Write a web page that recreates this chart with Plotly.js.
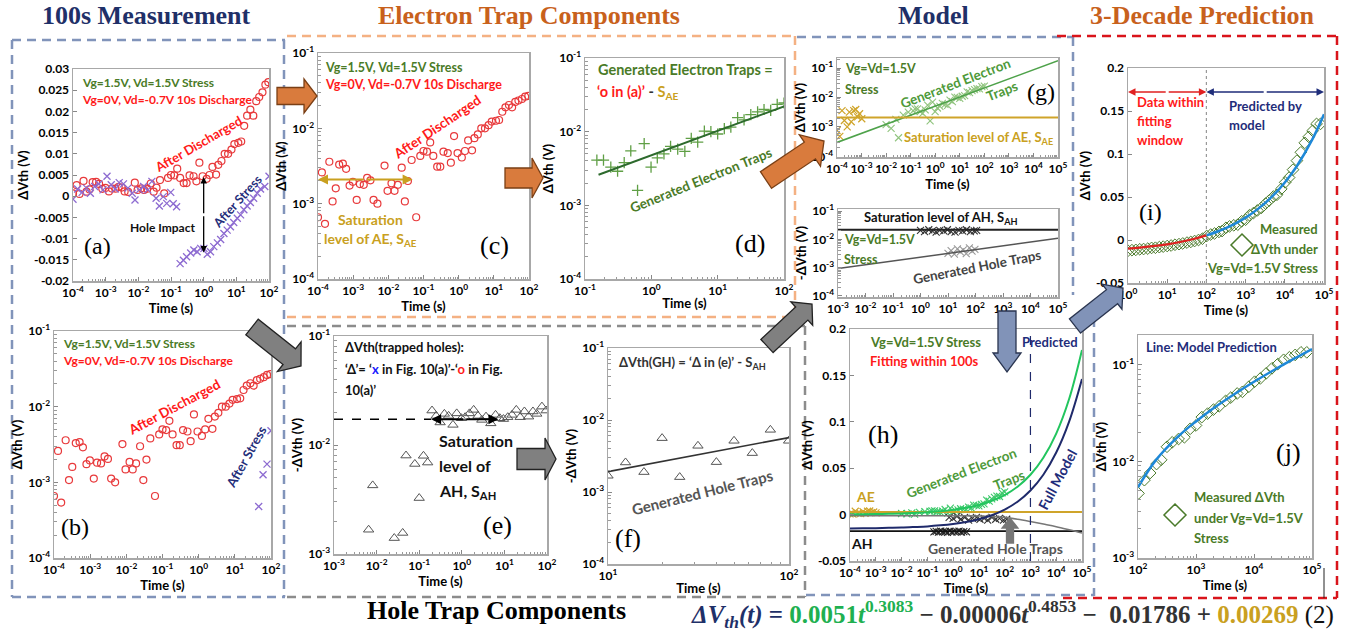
<!DOCTYPE html>
<html><head><meta charset="utf-8">
<script src="https://cdn.plot.ly/plotly-3.0.1.min.js"></script>
<style>body{margin:0;background:#fff}#chart{width:1361px;height:634px}</style>
</head><body><div id="chart"></div>
<script>
const W=1361,H=634;
const FONT='Lato, "Open Sans", sans-serif';
const SERIF='"Liberation Serif", "DejaVu Serif", serif';

// ---------- DATA ----------
// (a)(b)(c) after discharge, red circles
const redT=[1.0e-4,1.29e-4,1.58e-4,2.1e-4,2.6e-4,3.2e-4,4.0e-4,5.1e-4,6.3e-4,7.9e-4,9.8e-4,1.26e-3,1.55e-3,2.0e-3,2.5e-3,3.1e-3,3.8e-3,4.9e-3,7.8e-3,9.5e-3,1.23e-2,1.5e-2,1.86e-2,2.4e-2,2.95e-2,3.6e-2,4.6e-2,6.2e-2,8.1e-2,0.100,0.126,0.155,0.19,0.245,0.30,0.37,0.49,0.60,0.74,0.93,1.23,1.51,1.86,2.4,2.8,3.5,4.4,5.6,7.1,8.7,11.5,14.1,17.4,21.4,26.9,33.1,40.7,50.1,63.1,77.6,95.5];
const redV=[6.6e-4,2.6e-3,5.4e-4,3.6e-3,1.07e-3,1.6e-3,3.3e-3,3.4e-3,2.9e-3,1.74e-3,1.95e-3,1.12e-3,1.82e-3,1.78e-3,2.2e-3,2.04e-3,1.12e-3,1.0e-3,3.2e-3,1.48e-3,1.86e-3,1.48e-3,1.78e-3,3.0e-3,1.07e-3,2.0e-3,3.8e-3,6.6e-4,4.3e-3,5.0e-3,4.9e-3,6.5e-3,4.3e-3,3.1e-3,3.1e-3,4.9e-3,4.7e-3,3.5e-3,7.9e-3,4.7e-3,4.1e-3,5.0e-3,6.9e-3,5.1e-3,7.4e-3,8.3e-3,1.0e-2,1.0e-2,1.1e-2,1.23e-2,1.26e-2,1.29e-2,1.66e-2,1.9e-2,2.04e-2,1.9e-2,2.24e-2,2.34e-2,2.45e-2,2.63e-2,2.69e-2];
// (a) after stress, purple x
const purT=[1.0e-4,1.38e-4,1.9e-4,2.6e-4,3.4e-4,4.6e-4,6.2e-4,8.3e-4,1.1e-3,1.48e-3,1.95e-3,2.6e-3,3.5e-3,4.8e-3,6.5e-3,7.9e-3,1.07e-2,1.45e-2,1.95e-2,2.6e-2,3.5e-2,4.4e-2,5.8e-2,7.4e-2,9.8e-2,0.117,0.148,0.19,0.24,0.30,0.40,0.50,0.63,0.81,1.02,1.29,1.62,2.04,2.63,3.31,4.17,5.25,6.61,8.32,10.7,13.5,17.0,21.4,26.9,33.9,43.7,55.0,74.1,100];
const purV=[-0.0007,0.0017,0.0009,0.0019,0.0007,0.0023,0.0029,0.0015,0.0047,0.0027,0.0017,0.0032,0.0029,0.0019,0.0007,-0.0009,0.0015,0.0023,0.0015,0.0035,-0.0005,-0.0023,-0.0001,-0.0017,0.0009,-0.0018,-0.0025,-0.0159,-0.0151,-0.0143,-0.0134,-0.0127,-0.0131,-0.0123,-0.0123,-0.0137,-0.0131,-0.0119,-0.0110,-0.0102,-0.0088,-0.0080,-0.0072,-0.0062,-0.0052,-0.0044,-0.0032,-0.0023,-0.0015,-0.0005,0.0007,0.0017,0.0023,0.0047];
// (b) after stress (positive part)
const purBT=[45.7,60.3,77.6,100];
const purBV=[4.8e-4,1.26e-3,1.74e-3,4.8e-3];
// saturation levels
const SAE=0.0021, SAH_E=0.0172, SAH_G=0.022, AE_H=0.00269, AH_H=-0.01786;
// (d) generated electron traps (+)
const geT=[0.151,0.19,0.245,0.31,0.39,0.49,0.62,0.78,0.99,1.23,1.55,1.95,2.5,3.2,4.0,5.0,6.3,7.9,10,12.6,15.8,20,25,31.6,40,50,63,79,100];
const geV=[4.1e-3,4.1e-3,3.3e-3,2.9e-3,3.8e-3,5.5e-3,1.6e-3,6.9e-3,3.3e-3,4.4e-3,5.0e-3,6.3e-3,5.8e-3,5.4e-3,8.1e-3,7.2e-3,1.02e-2,1.0e-2,9.3e-3,1.1e-2,1.15e-2,1.55e-2,1.45e-2,1.7e-2,1.86e-2,2.0e-2,1.95e-2,2.34e-2,2.45e-2];
const fitDT=[0.16,100], fitDV=[2.6e-3,2.2e-2];
// (e) trapped holes (triangles)
const trET=[6.5e-3,8.1e-3,2.6e-2,4.1e-2,4.9e-2,7.9e-2,0.10,0.126,0.158,0.20,0.25,0.31,0.39,0.49,0.62,0.76,0.98,1.2,1.51,1.9,2.4,2.95,3.7,4.8,6.2,7.8,9.5,12,15.1,19,23.4,29.5,37,46.8,57.5,76,95.5];
const trEV=[1.67e-3,4.26e-3,1.4e-3,1.56e-3,8.0e-3,6.7e-3,3.26e-3,7.96e-3,6.9e-3,0.0207,0.0185,0.0161,0.0193,0.0185,0.0153,0.0195,0.0176,0.0180,0.0195,0.0210,0.0185,0.0170,0.0182,0.0158,0.0189,0.0176,0.0173,0.0180,0.0189,0.0210,0.0180,0.0203,0.0182,0.0203,0.0193,0.0225,0.0207];
// (f) generated hole traps
const trFT=[10,12.5,15.8,19.9,24.9,31.4,39.7,49.7,62.7,78.9,99.5];
const trFV=[1.68e-3,2.57e-3,1.89e-3,5.6e-3,1.61e-3,4.38e-3,2.6e-3,5.14e-3,3.47e-3,7.3e-3,5.14e-3];
const ghFT=[10,100], ghFV=[1.92e-3,5.7e-3];
// (g)(h) AE points (gold x) and generated electron trap points (green x)
const aeT=[1.0e-4,1.3e-4,1.6e-4,2.0e-4,2.6e-4,3.2e-4,3.8e-4,4.8e-4,5.8e-4,6.9e-4,8.3e-4,1.02e-3];
const aeV=[7.6e-4,4.8e-4,3.6e-3,1.66e-3,1.0e-3,3.2e-3,1.5e-3,3.6e-3,3.9e-3,2.2e-3,2.8e-3,1.9e-3];
const gxT=[0.01,0.016,0.025,0.032,0.05,0.08,0.126].concat(geT);
const gxV=[1.2e-3,9e-4,1.8e-3,4.3e-4,2.5e-3,3.2e-3,3.5e-3].concat(geV);
const geLineT=[1e-4,1e5], geLineV=[2.98e-4,0.177];
// (g) lower: AH and generated hole traps
const ahGT=[1.0,1.4,2.0,2.7,3.7,5.0,7.0,9.5,13,18,25,34,47,65,90,110];
const ahGV=[0.021,0.019,0.022,0.020,0.018,0.021,0.020,0.022,0.019,0.018,0.021,0.020,0.022,0.019,0.020,0.021];
const ghGT=[10,13,17,22,28,36,46,60,75,95];
const ghGV=[3.2e-3,4.0e-3,3.0e-3,4.6e-3,3.6e-3,4.2e-3,3.1e-3,5.0e-3,3.8e-3,4.4e-3];
const ghLineT=[1e-3,1e5], ghLineV=[9.1e-4,1.1e-2];
// (h) points
const ahHT=[0.18,0.22,0.27,0.33,0.4,0.5,0.6,0.75,0.9,1.1,1.4,1.7,2.1,2.6,3.3];
const ahHV=[-0.0185,-0.0180,-0.0190,-0.0178,-0.0186,-0.0182,-0.0192,-0.0179,-0.0188,-0.0181,-0.0187,-0.0177,-0.0189,-0.0183,-0.0186];
const ghHT=[0.7,1,1.4,2,2.8,4,5.6,8,11,16,22,32,45,63,90,120];
const ghHV=[-0.003,-0.004,-0.002,-0.005,-0.003,-0.006,-0.004,-0.003,-0.005,-0.004,-0.006,-0.003,-0.005,-0.004,-0.006,-0.005];
// (h) model curves
const curveT=[1e-4,3.16e-4,1e-3,3.16e-3,1e-2,3.16e-2,0.1,0.316,1,3.16,10,31.6,100,316,1e3,3162,1e4,31623,1e5];
const curveGE=[0.0003,0.0004,0.0006,0.0009,0.0012,0.0018,0.0025,0.0036,0.0051,0.0073,0.0104,0.0148,0.0211,0.0301,0.0429,0.0612,0.0873,0.1245,0.1774];
const curveFull=[-0.0149,-0.0148,-0.0146,-0.0143,-0.0140,-0.0134,-0.0127,-0.0116,-0.0101,-0.0080,-0.0050,-0.0007,0.0054,0.0139,0.0260,0.0430,0.0669,0.1002,0.1462];
const curveGH=[-0.0012,-0.0012,-0.0012,-0.0012,-0.0012,-0.0012,-0.0012,-0.0012,-0.0012,-0.0013,-0.0015,-0.0020,-0.0030,-0.0050,-0.0075,-0.0102,-0.0130,-0.0163,-0.0198];
// (i)(j) measured and model prediction
const measT=[1,1.26,1.58,2.0,2.5,3.2,4.0,5.0,6.3,7.9,10,12.6,15.8,20,25,32,40,50,63,79,102,129,162,209,251,316,389,501,631,794,1000,1259,1585,1995,2512,3236,3981,5129,6310,8128,10230,12880,16220,20420,25700,32360,40740,51290,64570,81280];
const measV=[-0.0125,-0.0118,-0.0115,-0.0108,-0.0105,-0.0100,-0.0092,-0.0090,-0.0083,-0.0077,-0.0070,-0.0064,-0.0055,-0.0048,-0.0040,-0.0030,-0.0022,-0.0012,0.0000,0.0015,4.67e-3,6.4e-3,7.6e-3,9.4e-3,1.04e-2,1.42e-2,1.58e-2,1.71e-2,1.78e-2,2.18e-2,2.36e-2,2.88e-2,3.13e-2,3.44e-2,3.73e-2,4.24e-2,4.59e-2,5.06e-2,5.26e-2,5.94e-2,6.70e-2,7.26e-2,8.18e-2,9.23e-2,0.102,0.113,0.120,0.127,0.135,0.135];
const fitT=[1,2,5,10,20,50,100];
const fitV=[-0.0101,-0.0089,-0.0069,-0.0050,-0.0026,0.0015,0.0054];
const predT=[100,200,500,1e3,2e3,5e3,1e4,2e4,5e4,1e5];
const predV=[0.0054,0.0102,0.0183,0.0260,0.0356,0.0515,0.0669,0.0855,0.1167,0.1462];
// tick labels
const aYvals=[-0.02,-0.015,-0.01,-0.005,0,0.005,0.01,0.015,0.02,0.025,0.03];
const aYtext=['-0.02','-0.015','-0.01','-0.005','0','0.005','0.01','0.015','0.02','0.025','0.03'];
const hYvals=[-0.05,0,0.05,0.1,0.15,0.2];
const hYtext=['-0.05','0','0.05','0.1','0.15','0.2'];

// ---------- LAYOUT HELPERS ----------
function dec(lo,hi){const v=[],t=[];for(let k=lo;k<=hi;k++){v.push(Math.pow(10,k));t.push('10<sup>'+k+'</sup>');}return {v,t};}
const FRAME='#a8a8a8';
function axis(type,range,box,isX,anchor,tv,tt,title,fs,extra){
  const d=isX?[box[0]/W,box[2]/W]:[1-box[3]/H,1-box[1]/H];
  const o={type,range,domain:d,anchor,showgrid:false,zeroline:false,showline:true,mirror:true,linecolor:FRAME,linewidth:1.5,
    ticks:'inside',ticklen:4,tickcolor:'#888',tickmode:'array',tickvals:tv,ticktext:tt,
    tickfont:{family:FONT,size:fs||12,color:'#000',weight:'bold'},fixedrange:true};
  if(type==='log') o.minor={ticks:'inside',ticklen:2.5,tickcolor:'#999',dtick:'D1',showgrid:false};
  if(title) o.title={text:title,font:{family:FONT,size:13,color:'#000',weight:'bold'},standoff:2};
  return Object.assign(o,extra||{});
}
const B={a:[73,69,269,281],b:[54,331,271,558],c:[318,53,529,279],d:[585,58,784,279],e:[334,336,547,554],
 f:[608,348,789,564],g:[837,58,1058,157],g2:[838,209,1058,297],h:[850,329,1082,561],i:[1128,68,1324,283],j:[1138,335,1312,558]};
const layout={width:W,height:H,margin:{l:0,r:0,t:0,b:0},paper_bgcolor:'#fff',plot_bgcolor:'#fff',showlegend:false,hovermode:false};
function setAx(n,box,xt,xr,xtick,xtitle,yt,yr,ytick,ytitle,fsx,fsy){
  const xs=n===1?'':String(n);
  layout['xaxis'+xs]=axis(xt,xr,box,true,'y'+xs,xtick.v,xtick.t,xtitle,fsx);
  layout['yaxis'+xs]=axis(yt,yr,box,false,'x'+xs,ytick.v,ytick.t,ytitle,fsy);
}
const linA={v:aYvals,t:aYtext}, linH={v:hYvals,t:hYtext};
const TS='Time (s)', DV='ΔVth (V)', NDV='-ΔVth (V)';
setAx(1,B.a,'log',[-4,2],dec(-4,2),TS,'linear',[-0.02,0.03],linA,DV);
setAx(2,B.b,'log',[-4,2],dec(-4,2),TS,'log',[-4,-1],dec(-4,-1),DV);
setAx(3,B.c,'log',[-4,2],dec(-4,2),TS,'log',[-4,-1],dec(-4,-1),DV);
setAx(4,B.d,'log',[-1,2],dec(-1,2),TS,'log',[-4,-1],dec(-4,-1),DV);
setAx(5,B.e,'log',[-3,2],dec(-3,2),TS,'log',[-3,-1],dec(-3,-1),NDV);
setAx(6,B.f,'log',[1,2],dec(1,2),TS,'log',[-4,-1],dec(-4,-1),NDV);
setAx(7,B.g,'log',[-4,5],dec(-4,5),TS,'log',[-4.02,-0.66],dec(-4,-1),DV,12,12);
setAx(8,B.g2,'log',[-3,5],dec(-3,5),null,'log',[-4.05,-0.92],dec(-4,-1),NDV,12,12);
setAx(9,B.h,'log',[-4,5],dec(-4,5),TS,'linear',[-0.05,0.2],linH,DV);
setAx(10,B.i,'log',[0,5],dec(0,5),TS,'linear',[-0.05,0.2],linH,DV);
setAx(11,B.j,'log',[2,5],dec(2,5),TS,'log',[-3,-0.69],dec(-3,-1),DV);

// ---------- TRACES ----------
const traces=[];
function pts(n,x,y,sym,color,size,lw){const s=n===1?'':String(n);traces.push({x,y,xaxis:'x'+s,yaxis:'y'+s,mode:'markers',type:'scatter',
  marker:{symbol:sym,size:size||7,color:color,line:{color:color,width:lw||1.2}},cliponaxis:true});}
function line(n,x,y,color,w,dash,shape){const s=n===1?'':String(n);traces.push({x,y,xaxis:'x'+s,yaxis:'y'+s,mode:'lines',type:'scatter',
  line:{color,width:w||2,dash:dash||'solid',shape:shape||'linear'}});}
const RED='#e8393b',PUR='#8d6bd1',GOLD='#cfa42a',DKG='#2d6a2d',GRN='#5f9f45',LGRN='#90c47e',HGRN='#3cc96a',BLUE='#1e88d8',NAVY='#1f2a6b';
// a
pts(1,redT,redV,'circle-open',RED,7);
pts(1,purT,purV,'x-thin',PUR,7,1.3);
// b
pts(2,redT,redV,'circle-open',RED,7);
pts(2,purBT,purBV,'x-thin',PUR,7,1.3);
// c
pts(3,redT,redV,'circle-open',RED,7);
// d
pts(4,geT,geV,'cross-thin',GRN,8,1.3);
line(4,fitDT,fitDV,DKG,2);
// e
pts(5,trET,trEV,'triangle-up-open','#555',9,1);
// f
pts(6,trFT,trFV,'triangle-up-open','#555',9,1);
line(6,ghFT,ghFV,'#333',1.6);
// g
pts(7,gxT,gxV,'x-thin',LGRN,7,1.1);
pts(7,aeT,aeV,'x-thin',GOLD,7,1.2);
line(7,geLineT,geLineV,'#4ea24a',1.6);
line(7,[1e-4,1e5],[SAE,SAE],GOLD,2);
// g2
pts(8,ahGT,ahGV,'x-thin','#333',7,1.1);
pts(8,ghGT,ghGV,'x-thin','#999',7,1.1);
line(8,[1e-3,1e5],[SAH_G,SAH_G],'#222',2);
line(8,ghLineT,ghLineV,'#555',1.5);
// h
pts(9,gxT,gxV,'x-thin',HGRN,7,1.1);
pts(9,aeT,aeV,'x-thin',GOLD,7,1.2);
pts(9,ahHT,ahHV,'x-thin','#222',7,1.1);
pts(9,ghHT,ghHV,'x-thin','#333',7,1.1);
line(9,[1e-4,1e5],[AE_H,AE_H],GOLD,2);
line(9,[1e-4,1e5],[AH_H,AH_H],'#111',1.8);
line(9,curveT,curveGH,'#777',1.6,'solid','spline');
line(9,curveT,curveGE,'#22c55e',2,'solid','spline');
line(9,curveT,curveFull,NAVY,2,'solid','spline');
// i
pts(10,measT,measV,'diamond-open','#4a7a2a',9,1);
line(10,fitT,fitV,'#e02020',2.2,'solid','spline');
line(10,predT,predV,BLUE,2.5,'solid','spline');
// j
pts(11,measT,measV,'diamond-open','#4a7a2a',9,1);
line(11,predT,predV,BLUE,2.5,'solid','spline');

// ---------- ANNOTATIONS ----------
const anns=[];
function T(text,x,y,size,color,o){o=o||{};
  anns.push({xref:'paper',yref:'paper',x:x/W,y:1-y/H,text,showarrow:false,
    xanchor:o.xa||'center',yanchor:o.ya||'middle',textangle:o.ang||0,
    font:{family:o.fam||FONT,size:size,color:color,weight:o.w||'bold'}});}
function dbl(n,x1,y1,x2,y2,color,w){const s=n===1?'':String(n);const mx=(x1+x2)/2,my=(y1+y2)/2;
  [[x1,y1],[x2,y2]].forEach(p=>anns.push({xref:'x'+s,yref:'y'+s,axref:'x'+s,ayref:'y'+s,x:p[0],y:p[1],ax:mx,ay:my,
    text:'',showarrow:true,arrowhead:2,arrowsize:1,arrowwidth:w,arrowcolor:color}));}
const GT='#4a7b27',RT='#ff1a1a',NT='#1f2d7a',GDT='#c9a020',ORG='#c8611c';
// headers
T('100s Measurement',146,16,26,'#1f3068',{fam:SERIF});
T('Electron Trap Components',529,16,26,ORG,{fam:SERIF});
T('Model',933,16,26,'#1f3068',{fam:SERIF});
T('3-Decade Prediction',1202,16,26,ORG,{fam:SERIF});
T('Hole Trap Components',496,610,26,'#000',{fam:SERIF});
T('<i>ΔV<sub>th</sub>(t)</i> = <span style="color:#20b050">0.0051<i>t</i><sup>0.3083</sup></span><span style="color:#333"> − 0.00006<i>t</i><sup>0.4853</sup> −  0.01786 + </span><span style="color:#c9a020">0.00269</span><span style="color:#111;font-weight:normal"> (2)</span>',1336,614,25,'#1f3068',{fam:SERIF,xa:'right'});
// a
T('Vg=1.5V, Vd=1.5V Stress',80,83,12,GT,{xa:'left'});
T('Vg=0V, Vd=-0.7V 10s Discharge',80,99,12,RT,{xa:'left'});
T('After Discharged',198,144,13,RT,{ang:-30});
T('After Stress',237,201,12.5,NT,{ang:-48});
T('Hole Impact',162,227,12,'#111');
T('(a)',97,246,24,'#000',{fam:SERIF,w:'normal'});
dbl(1,0,0.0045,0,-0.0133,'#000',1.3);
// b
T('Vg=1.5V, Vd=1.5V Stress',61,343,12,GT,{xa:'left'});
T('Vg=0V, Vd=-0.7V 10s Discharge',61,360,12,RT,{xa:'left'});
T('After Discharged',174,407,13.5,RT,{ang:-28});
T('After Stress',246,457,13,NT,{ang:-61});
T('(b)',75,527,24,'#000',{fam:SERIF,w:'normal'});
// c
T('Vg=1.5V, Vd=1.5V Stress',323,67,12.5,GT,{xa:'left'});
T('Vg=0V, Vd=-0.7V 10s Discharge',323,84,12.5,RT,{xa:'left'});
T('After Discharged',437,127,13.5,RT,{ang:-34});
T('Saturation',370,219,14,GDT);
T('level of AE, S<sub>AE</sub>',370,239,14,GDT);
T('(c)',495,245,26,'#000',{fam:SERIF,w:'normal'});
dbl(3,-4,Math.log10(SAE),-1.31,Math.log10(SAE),GDT,2);
// d
T('Generated Electron Traps =',686,69,14.5,GT);
T('<span style="color:#ff1a1a">‘o in (a)’</span> - <span style="color:#c9a020">S<sub>AE</sub></span>',595,93,14.5,'#333',{xa:'left'});
T('Generated Electron Traps',701,180,13.5,GT,{ang:-22});
T('(d)',750,243,26,'#000',{fam:SERIF,w:'normal'});
// e
T('ΔVth(trapped holes):',343,347,13,'#111',{xa:'left'});
T('‘Δ’= ‘<span style="color:#1a1aff">x</span> in Fig. 10(a)’-‘<span style="color:#ff1a1a">o</span> in Fig.',343,369,13,'#111',{xa:'left'});
T('10(a)’',343,390,13,'#111',{xa:'left'});
T('Saturation',437,440,16,'#111',{xa:'left'});
T('level of',437,465,16,'#111',{xa:'left'});
T('AH, S<sub>AH</sub>',437,491,16,'#111',{xa:'left'});
T('(e)',497,525,26,'#000',{fam:SERIF,w:'normal'});
dbl(5,-0.72,Math.log10(SAH_E),0.86,Math.log10(SAH_E),'#000',2);
// f
T('ΔVth(GH) = ‘Δ in (e)’ - S<sub>AH</sub>',617,363,13,'#333',{xa:'left'});
T('Generated Hole Traps',703,492,15,'#555',{ang:-14});
T('(f)',628,538,26,'#000',{fam:SERIF,w:'normal'});
// g
T('Vg=Vd=1.5V',843,68,12.5,GT,{xa:'left'});
T('Stress',843,89,12.5,GT,{xa:'left'});
T('Generated Electron',956,83,13.5,'#4e9a3a',{ang:-21});
T('Traps',1002,91,13.5,'#4e9a3a',{ang:-21});
T('(g)',1041,92,24,'#000',{fam:SERIF,w:'normal'});
T('Saturation level of AE, S<sub>AE</sub>',978,138,13,GDT);
// g2
T('Saturation level of AH, S<sub>AH</sub>',940,218,13,'#111');
T('Vg=Vd=1.5V',842,239,12.5,GT,{xa:'left'});
T('Stress',842,259,12.5,GT,{xa:'left'});
T('Generated Hole Traps',977,267,13.5,'#444',{ang:-11});
// h
T('Vg=Vd=1.5V Stress',868,342,13,GT,{xa:'left'});
T('Fitting within 100s',868,361,13,RT,{xa:'left'});
T('Predicted',1080,342,13,NT,{xa:'right'});
T('(h)',883,435,26,'#000',{fam:SERIF,w:'normal'});
T('Generated Electron',961,473,13.5,'#4e9a3a',{ang:-21});
T('Traps',1009,480,13.5,'#4e9a3a',{ang:-21});
T('Full Model',1057,479,14,NT,{ang:-62});
T('AE',865,496,14,GDT);
T('AH',862,543,14,'#111');
T('Generated Hole Traps',995,548,14,'#555');
// i
dbl(10,0,0.172,2,0.172,'#e02020',1.5);
dbl(10,2,0.172,5,0.172,NT,1.5);
T('Data within',1135,102,13,RT,{xa:'left'});
T('fitting',1135,121,13,RT,{xa:'left'});
T('window',1135,140,13,RT,{xa:'left'});
T('Predicted by',1227,106,13,NT,{xa:'left'});
T('model',1227,125,13,NT,{xa:'left'});
T('(i)',1150,212,24,'#000',{fam:SERIF,w:'normal'});
T('Measured',1320,229,13,GT,{xa:'right'});
T('ΔVth under',1320,249,13,GT,{xa:'right'});
T('Vg=Vd=1.5V Stress',1320,268,13,GT,{xa:'right'});
// j
T('Line: Model Prediction',1144,347,13,NT,{xa:'left'});
T('(j)',1288,452,26,'#000',{fam:SERIF,w:'normal'});
T('Measured ΔVth',1192,497,13,GT,{xa:'left'});
T('under Vg=Vd=1.5V',1192,518,13,GT,{xa:'left'});
T('Stress',1192,538,13,GT,{xa:'left'});
layout.annotations=anns;

// ---------- SHAPES ----------
const shapes=[];
function P2(x,y){return (x/W).toFixed(5)+','+(1-y/H).toFixed(5);}
function dl(x1,y1,x2,y2,color,w,dash){shapes.push({type:'line',xref:'paper',yref:'paper',x0:x1/W,y0:1-y1/H,x1:x2/W,y1:1-y2/H,
  line:{color,width:w||2.5,dash:dash||'9px,6px'},layer:'below'});}
const BL='#8194ba',OR='#f4b183',GR='#8c8c8c',RD='#d9141b';
dl(12,40,285,40,BL);dl(12,40,12,597,BL);dl(12,597,285,597,BL);dl(284,40,284,597,BL);
dl(287,36,795,36,OR);dl(287,317,795,317,OR);dl(795,36,795,317,OR);
dl(287,326,805,326,GR);dl(287,597,805,597,GR);dl(805,326,805,597,GR);
dl(797,37,1073,37,BL);dl(1073,37,1073,295,BL);dl(1094,318,1094,596,BL);dl(806,595,1094,595,BL);
dl(1057,36,1337,36,RD);dl(1337,36,1337,598,RD);dl(1063,598,1337,598,RD);
dl(1324,568,1324,598,'#222',1,'solid');
// in-plot reference lines (axis data coords)
shapes.push({type:'line',xref:'x5',yref:'y5',x0:1e-3,x1:0.19,y0:SAH_E,y1:SAH_E,line:{color:'#000',width:1.5,dash:'dash'}});
shapes.push({type:'line',xref:'x9',yref:'paper',x0:1000,x1:1000,y0:1-561/H,y1:1-329/H,line:{color:NAVY,width:1.2,dash:'dash'}});
shapes.push({type:'line',xref:'x10',yref:'paper',x0:100,x1:100,y0:1-283/H,y1:1-68/H,line:{color:'#999',width:1.2,dash:'dot'}});
// legend diamonds
function diamond(cx,cy,r,color){shapes.push({type:'path',xref:'paper',yref:'paper',path:'M'+P2(cx,cy-r)+' L'+P2(cx+r,cy)+' L'+P2(cx,cy+r)+' L'+P2(cx-r,cy)+' Z',line:{color,width:1.5},fillcolor:'rgba(0,0,0,0)'});}
diamond(1242,245,11,'#4a7a2a');
diamond(1175,515,11,'#4a7a2a');
// block arrows
function blockArrow(a){
  const [tx,ty]=a.t,[hx,hy]=a.h;const L=Math.hypot(hx-tx,hy-ty);const dx=(hx-tx)/L,dy=(hy-ty)/L;const nx=-dy,ny=dx;
  const bx=hx-dx*a.hl,by=hy-dy*a.hl;
  const p=[[tx+nx*a.w,ty+ny*a.w],[bx+nx*a.w,by+ny*a.w],[bx+nx*a.hw,by+ny*a.hw],[hx,hy],[bx-nx*a.hw,by-ny*a.hw],[bx-nx*a.w,by-ny*a.w],[tx-nx*a.w,ty-ny*a.w]];
  shapes.push({type:'path',xref:'paper',yref:'paper',path:'M'+p.map(q=>P2(q[0],q[1])).join(' L')+' Z',fillcolor:a.fill,line:{color:a.line,width:1.3},layer:'above'});
}
const OFILL='#d97b3d',OLINE='#7a3f15',GFILL='#808080',GLINE='#222',BFILL='#8193b8',BLINE='#2a3550';
[
 {t:[277,96],h:[317,96],w:8.5,hw:17,hl:13,fill:OFILL,line:OLINE},
 {t:[505,178],h:[543,178],w:10,hw:20,hl:11,fill:OFILL,line:OLINE},
 {t:[766,180],h:[824,141],w:10,hw:19,hl:17,fill:OFILL,line:OLINE},
 {t:[252,327],h:[301,366],w:10,hw:19,hl:15,fill:GFILL,line:GLINE},
 {t:[517,459],h:[556,459],w:10.5,hw:21,hl:11,fill:GFILL,line:GLINE},
 {t:[767,346],h:[812,304],w:9,hw:16,hl:14,fill:GFILL,line:GLINE},
 {t:[1007,311],h:[1007,372],w:9,hw:14,hl:19,fill:BFILL,line:BLINE},
 {t:[1075,326],h:[1123,288],w:9,hw:16,hl:14,fill:BFILL,line:BLINE},
 {t:[1010,543],h:[1010,518],w:3.5,hw:8,hl:10,fill:'#777',line:'#777'}
].forEach(blockArrow);
layout.shapes=shapes;

Plotly.newPlot('chart',traces,layout,{staticPlot:true,displayModeBar:false});
</script></body></html>
